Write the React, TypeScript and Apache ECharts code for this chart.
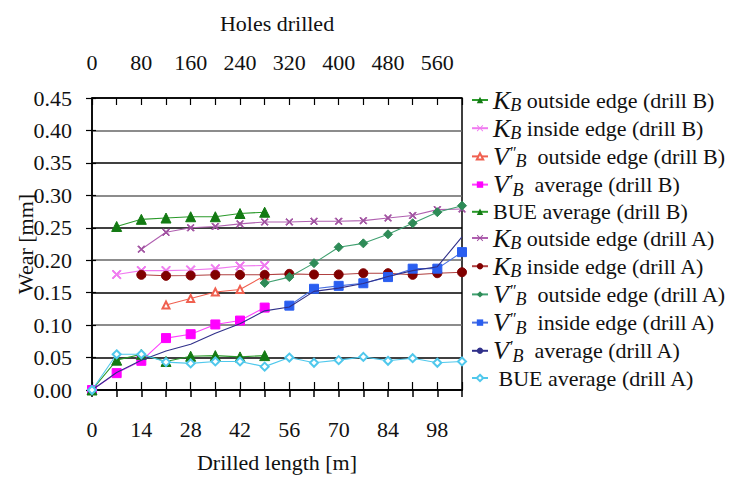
import React, { useEffect, useRef } from "react";
import * as echarts from "echarts";

const lengthM = [0, 7, 14, 21, 28, 35, 42, 49, 56, 63, 70, 77, 84, 91, 98, 105];
const N = null;
const kbOutB = [N, 0.252, 0.263, 0.265, 0.267, 0.267, 0.272, 0.274, N, N, N, N, N, N, N, N];
const kbInB = [N, 0.178, 0.184, 0.184, 0.185, 0.187, 0.191, 0.192, N, N, N, N, N, N, N, N];
const vbOutB = [N, N, N, 0.131, 0.141, 0.151, 0.155, 0.176, N, N, N, N, N, N, N, N];
const vbAvgB = [0, 0.026, 0.045, 0.08, 0.086, 0.101, 0.107, 0.127, N, N, N, N, N, N, N, N];
const bueB = [0, 0.046, 0.055, 0.044, 0.052, 0.053, 0.051, 0.053, N, N, N, N, N, N, N, N];
const kbOutA = [N, N, 0.217, 0.243, 0.25, 0.252, 0.256, 0.259, 0.259, 0.26, 0.26, 0.261, 0.265, 0.269, 0.278, 0.279];
const kbInA = [N, N, 0.1775, 0.176, 0.1765, 0.1775, 0.1775, 0.1775, 0.179, 0.178, 0.178, 0.18, 0.18, 0.1775, 0.18, 0.1815];
const vbOutA = [N, N, N, N, N, N, N, 0.165, 0.174, 0.1955, 0.22, 0.226, 0.24, 0.257, 0.274, 0.284];
const vbInA = [N, N, N, N, N, N, N, N, 0.13, 0.156, 0.1605, 0.1645, 0.174, 0.187, 0.187, 0.2125];
const vbAvgA = [0, 0.027, 0.046, 0.06, 0.0705, 0.0875, 0.102, 0.122, 0.128, 0.152, 0.157, 0.164, 0.175, 0.184, 0.19, 0.236];
const bueA = [0, 0.055, 0.055, 0.043, 0.041, 0.044, 0.044, 0.036, 0.05, 0.042, 0.046, 0.051, 0.045, 0.049, 0.042, 0.044];

const xLabels = [0, 14, 28, 42, 56, 70, 84, 98];
const holeLabels = [0, 80, 160, 240, 320, 400, 480, 560];

const FONT = "Liberation Serif";
const XPATH = "path://M0,1L1,0L5,4L9,0L10,1L6,5L10,9L9,10L5,6L1,10L0,9L4,5Z";

const pts = (arr: (number | null)[]) =>
  lengthM.map((x, i) => [x, arr[i]]).filter((p) => p[1] !== null);

const seriesDefs = [
  { name: "kbOutB", label: "{k|K}{sb|B}{t| outside edge (drill B)}", data: kbOutB, color: "#2a9a2a", mcolor: "#137a13", symbol: "triangle", size: 10 },
  { name: "kbInB", label: "{k|K}{sb|B}{t| inside edge (drill B)}", data: kbInB, color: "#f07af0", mcolor: "#f07af0", symbol: XPATH, size: 9 },
  { name: "vbOutB", label: "{k|V}{pr|″}{sb|B}{t|  outside edge (drill B)}", data: vbOutB, color: "#f06050", mcolor: "#f06050", symbol: "emptyTriangle", size: 7 },
  { name: "vbAvgB", label: "{k|V}{pr|′}{sb|B}{t|  average (drill B)}", data: vbAvgB, color: "#ff40ff", mcolor: "#ff00ff", symbol: "rect", size: 9 },
  { name: "bueB", label: "{t|BUE average (drill B)}", data: bueB, color: "#2a9a2a", mcolor: "#137a13", symbol: "triangle", size: 10 },
  { name: "kbOutA", label: "{k|K}{sb|B}{t| outside edge (drill A)}", data: kbOutA, color: "#b060b0", mcolor: "#a050a0", symbol: XPATH, size: 7 },
  { name: "kbInA", label: "{k|K}{sb|B}{t| inside edge (drill A)}", data: kbInA, color: "#b04040", mcolor: "#800000", symbol: "circle", size: 9 },
  { name: "vbOutA", label: "{k|V}{pr|″}{sb|B}{t|  outside edge (drill A)}", data: vbOutA, color: "#40a070", mcolor: "#2e8b57", symbol: "diamond", size: 9 },
  { name: "vbInA", label: "{k|V}{pr|″}{sb|B}{t|  inside edge (drill A)}", data: vbInA, color: "#4a70e0", mcolor: "#2a5ef0", symbol: "rect", size: 9 },
  { name: "vbAvgA", label: "{k|V}{pr|′}{sb|B}{t|  average (drill A)}", data: vbAvgA, color: "#30308a", mcolor: "#30308a", symbol: "none", size: 0 },
  { name: "bueA", label: "{t| BUE average (drill A)}", data: bueA, color: "#50c8ec", mcolor: "#50c8ec", symbol: "emptyDiamond", size: 8 },
];

export default function App() {
  const ref = useRef<HTMLDivElement>(null);
  useEffect(() => {
    if (!ref.current) return;
    const chart = echarts.init(ref.current, undefined, { renderer: "svg" });
    const labelMap: Record<string, string> = {};
    seriesDefs.forEach((s) => (labelMap[s.name] = s.label));
    const tx = { fontFamily: FONT, fontSize: 22, color: "#111" };
    chart.setOption({
      animation: false,
      backgroundColor: "#fff",
      grid: {
        left: 92,
        right: 275,
        top: 98,
        bottom: 88,
        outerBoundsMode: "none",
        containLabel: false,
        show: true,
        borderColor: "#000",
        borderWidth: 1.5,
        backgroundColor: "transparent",
      },
      legend: {
        orient: "vertical",
        left: 466,
        top: 82,
        itemGap: 1.2,
        itemWidth: 16,
        itemHeight: 8,
        selectedMode: false,
        data: seriesDefs.map((s) => s.name),
        formatter: (n: string) => labelMap[n],
        textStyle: {
          fontFamily: FONT,
          color: "#111",
          rich: {
            k: { fontFamily: FONT, fontStyle: "italic", fontSize: 26, height: 24, lineHeight: 24, color: "#111" },
            pr: { fontFamily: FONT, fontStyle: "italic", fontSize: 16, height: 16, lineHeight: 16, padding: [0, 0, 8, 0], color: "#111" },
            sb: { fontFamily: FONT, fontStyle: "italic", fontSize: 18, height: 14, lineHeight: 14, padding: [10, 0, 0, 0], color: "#111" },
            t: { fontFamily: FONT, fontSize: 22, height: 24, lineHeight: 24, color: "#111" },
          },
        },
      },
      xAxis: [
        {
          type: "value",
          position: "bottom",
          min: 0,
          max: 105,
          interval: 7,
          name: "Drilled length [m]",
          nameLocation: "middle",
          nameGap: 61,
          nameMoveOverlap: false,
          nameTextStyle: tx,
          axisLine: { lineStyle: { color: "#000", width: 1.5 } },
          axisTick: { show: true, length: 7, lineStyle: { color: "#000", width: 1.5 } },
          axisLabel: { ...tx, margin: 28, formatter: (v: number) => (xLabels.includes(v) ? String(v) : "") },
          splitLine: { show: false },
        },
        {
          type: "value",
          position: "top",
          min: 0,
          max: 600,
          interval: 40,
          name: "Holes drilled",
          nameLocation: "middle",
          nameGap: 64,
          nameMoveOverlap: false,
          nameTextStyle: tx,
          axisLine: { lineStyle: { color: "#000", width: 1.5 } },
          axisTick: { show: true, length: 8, lineStyle: { color: "#000", width: 1.2 } },
          axisLabel: { ...tx, margin: 25, formatter: (v: number) => (holeLabels.includes(v) ? String(v) : "") },
          splitLine: { show: false },
        },
        {
          type: "value",
          position: "top",
          min: 0,
          max: 600,
          interval: 40,
          axisLine: { show: false },
          axisTick: { show: true, inside: true, length: 7, lineStyle: { color: "#000", width: 1.2 } },
          axisLabel: { show: false },
          splitLine: { show: false },
        },
      ],
      yAxis: [
        {
          type: "value",
          min: 0,
          max: 0.45,
          interval: 0.05,
          name: "Wear [mm]",
          nameLocation: "middle",
          nameGap: 56,
          nameMoveOverlap: false,
          nameTextStyle: tx,
          axisLine: { show: true, lineStyle: { color: "#000", width: 1.5 } },
          axisTick: { show: true, length: 6, lineStyle: { color: "#000", width: 1.2 } },
          axisLabel: { ...tx, margin: 20, formatter: (v: number) => v.toFixed(2) },
          splitLine: { show: true, lineStyle: { color: ["#666", "#000"], width: 1.6 } },
        },
        {
          type: "value",
          position: "left",
          min: 0,
          max: 0.45,
          interval: 0.05,
          axisLine: { show: false },
          axisTick: { show: true, inside: true, length: 4, lineStyle: { color: "#000", width: 1.2 } },
          axisLabel: { show: false },
          splitLine: { show: false },
        },
      ],
      series: seriesDefs.map((s, idx) => ({
        name: s.name,
        type: "line",
        xAxisIndex: 0,
        yAxisIndex: 0,
        data: pts(s.data),
        symbol: s.symbol,
        symbolSize: s.size,
        showSymbol: s.symbol !== "none",
        z: 2 + idx,
        lineStyle: { color: s.color, width: 1.1 },
        itemStyle: { color: s.mcolor, borderColor: s.mcolor },
      })),
    });
    return () => chart.dispose();
  }, []);
  return <div ref={ref} style={{ position: "absolute", left: 0, top: 0, width: 737, height: 478 }} />;
}
